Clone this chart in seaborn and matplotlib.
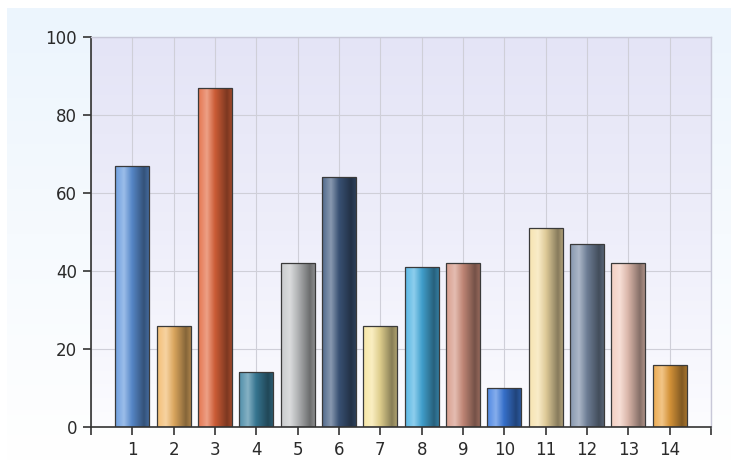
import numpy as np
import pandas as pd
import matplotlib
matplotlib.use("Agg")
import matplotlib.pyplot as plt
import seaborn as sns
from matplotlib.colors import LinearSegmentedColormap, to_rgb

sns.set_theme(style="white")
plt.rcParams['font.family'] = ['DejaVu Sans']

categories = [str(i) for i in range(1, 15)]
values = [67, 26, 87, 14, 42, 64, 26, 41, 42, 10, 51, 47, 42, 16]
bar_colors = ["#5f95dc", "#f2b868", "#e2663c", "#3c82a0", "#c4c6c8", "#3f5a80", "#f6e49c",
              "#48b0e2", "#d49482", "#3c7ce0", "#f6e0a8", "#7a8ca6", "#f2cabc", "#eaa23e"]
y_ticks = [0, 20, 40, 60, 80, 100]

df = pd.DataFrame({"cat": categories, "val": values})


def mix(c, other, t):
    c = np.array(to_rgb(c))
    o = np.array(to_rgb(other))
    return tuple(c * (1 - t) + o * t)


fig = plt.figure(figsize=(7.31, 4.61), dpi=100)
fig.patch.set_facecolor("white")

# light blue panel behind the chart
bg = fig.add_axes([7 / 731, 0, 1 - 7 / 731, 1 - 8 / 461], zorder=-10)
bg_cmap = LinearSegmentedColormap.from_list("bg", ["#ffffff", "#f6fafe", "#ecf5fd"])
bg.imshow(np.linspace(0, 1, 256).reshape(-1, 1)[::-1], cmap=bg_cmap, aspect="auto",
          extent=[0, 1, 0, 1])
bg.axis("off")

ax = fig.add_axes([91 / 731, 1 - 427 / 461, 620 / 731, 390 / 461])
ax.set_facecolor("none")

sns.barplot(data=df, x="cat", y="val", width=0.82, color="#888888", ax=ax, zorder=2)

ax.set_xlim(-1, 14)
ax.set_ylim(0, 100)

# plot area gradient (lavender to white)
plot_cmap = LinearSegmentedColormap.from_list("plot", ["#fcfcff", "#eeeefa", "#e4e4f6"])
ax.imshow(np.linspace(0, 1, 256).reshape(-1, 1)[::-1], cmap=plot_cmap, aspect="auto",
          extent=[-1, 14, 0, 100], zorder=0)

# cylinder-style shading on each bar
for p, c in zip(ax.patches, bar_colors):
    x0, y0 = p.get_x(), p.get_y()
    w, h = p.get_width(), p.get_height()
    cmap = LinearSegmentedColormap.from_list(
        "b", [(0.0, mix(c, "white", 0.1)), (0.26, mix(c, "white", 0.38)),
              (0.5, mix(c, "black", 0.1)), (0.86, mix(c, "black", 0.45)),
              (1.0, mix(c, "black", 0.3))])
    im = ax.imshow(np.linspace(0, 1, 64).reshape(1, -1), cmap=cmap, aspect="auto",
                   extent=[x0, x0 + w, y0, y0 + h], zorder=1.5)
    im.set_clip_path(p)
    p.set_facecolor("none")
    p.set_edgecolor("#3a3a3a")
    p.set_linewidth(0.9)

ax.set_xlim(-1, 14)
ax.set_ylim(0, 100)

ax.set_xticks(range(-1, 15))
ax.set_xticklabels([""] + categories + [""])
ax.set_yticks(y_ticks)
ax.set_xlabel("")
ax.set_ylabel("")

ax.grid(True, color="#cfcfd8", linewidth=0.8)
ax.set_axisbelow(True)
for g in ax.get_xgridlines():
    g.set_zorder(0.8)
for g in ax.get_ygridlines():
    g.set_zorder(0.8)

for s in ["left", "bottom"]:
    ax.spines[s].set_color("#333333")
    ax.spines[s].set_linewidth(1.2)
for s in ["top", "right"]:
    ax.spines[s].set_color("#c8c8d8")
    ax.spines[s].set_linewidth(1.0)

ax.tick_params(axis="both", direction="out", length=6, width=1.2, color="#333333",
               labelsize=12, labelcolor="#2a2a2a", pad=4)
ax.tick_params(axis="x", bottom=True, left=False)
ax.tick_params(axis="y", left=True, bottom=False)

fig.savefig("out.png", dpi=100)
